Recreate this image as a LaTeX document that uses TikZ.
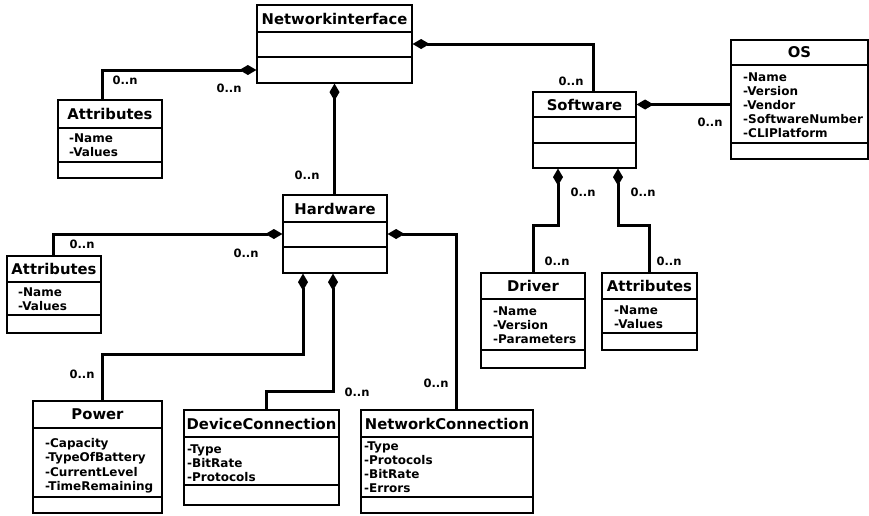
\documentclass[tikz,border=0pt]{standalone}
\usepackage{fontspec}
\setmainfont{DejaVu Sans}
\usetikzlibrary{arrows.meta}

\tikzset{
  box/.style={draw, line width=1.2pt, inner sep=0pt},
  ctitle/.style={font=\fontsize{14.8}{17}\selectfont\bfseries, inner sep=0pt},
  cattr/.style={font=\fontsize{12}{14}\selectfont\bfseries, align=left, inner sep=0pt, anchor=north west},
  wideattr/.style={cattr, font=\fontsize{12}{14.4}\selectfont\bfseries},
  mult/.style={font=\fontsize{11.5}{13}\selectfont\bfseries, inner sep=0pt},
  comp/.style={line width=3pt, {Diamond[length=17pt,width=10pt]}-},
}

% class box: name, x1, y1, x2, y2, first separator, second separator, title
\newcommand\classbox[8]{%
  \node[box, minimum width={(#4-#2)*1pt}, minimum height={(#5-#3)*1pt}] (#1) at ({(#2+#4)/2},{(#3+#5)/2}) {};
  \draw[line width=1.2pt] (#2,#6) -- (#4,#6) (#2,#7) -- (#4,#7);
  \node[ctitle] (#1-t) at ({(#2+#4)/2},{(#3+#6)/2}) {#8};
}

\begin{document}
\begin{tikzpicture}[x=1pt, y=-1pt]
  \useasboundingbox (0,0) rectangle (869,515);

  % classes
  \classbox{ni}{257}{5}{412}{83}{32}{57}{Networkinterface}
  \classbox{a1}{58}{100}{162}{178}{128}{162}{Attributes}
  \classbox{sw}{533}{92}{636}{168}{117}{143}{Software}
  \classbox{os}{731}{40}{868}{159}{65}{143}{OS}
  \classbox{hw}{283}{195}{387}{273}{222}{247}{Hardware}
  \classbox{a2}{7}{256}{101}{333}{282}{315}{Attributes}
  \classbox{dr}{481}{273}{585}{368}{299}{350}{Driver}
  \classbox{a3}{602}{273}{697}{350}{299}{333}{Attributes}
  \classbox{pw}{33}{401}{162}{513}{428}{497}{Power}
  \classbox{dc}{184}{410}{339}{505}{437}{485}{DeviceConnection}
  \classbox{nc}{361}{410}{533}{513}{437}{497}{NetworkConnection}

  % attributes
  \node[cattr] (a1-a) at (69,134) {-Name\\-Values};
  \node[cattr] (os-a) at (743,73) {-Name\\-Version\\-Vendor\\-SoftwareNumber\\-CLIPlatform};
  \node[cattr] (a2-a) at (18,288) {-Name\\-Values};
  \node[cattr] (dr-a) at (493,307) {-Name\\-Version\\-Parameters};
  \node[cattr] (a3-a) at (614,306) {-Name\\-Values};
  \node[wideattr] (pw-a) at (45,438) {-Capacity\\-TypeOfBattery\\-CurrentLevel\\-TimeRemaining};
  \node[cattr] (dc-a) at (187,445) {-Type\\-BitRate\\-Protocols};
  \node[cattr] (nc-a) at (364,442) {-Type\\-Protocols\\-BitRate\\-Errors};

  % compositions
  \coordinate (swr) at ([yshift=25.5pt]sw.east);
  \draw[comp] ([yshift=-26pt]ni.west) -| ([xshift=-8pt]a1.north);
  \draw[comp] (ni.east) -| ([xshift=8.5pt]sw.north);
  \draw[comp] (ni.south) -- (ni.south |- hw.north);
  \draw[comp] (hw.west) -| ([xshift=-1pt]a2.north);
  \draw[comp] (hw.east) -| ([xshift=9pt]nc.north);
  \draw[comp] ([xshift=-32pt]hw.south) -- ++(0,81) -| ([xshift=4.5pt]pw.north);
  \draw[comp] ([xshift=-2pt]hw.south) -- ++(0,118) -| ([xshift=4.5pt]dc.north);
  \draw[comp] (swr) -- (swr -| os.west);
  \draw[comp] ([xshift=-26.5pt]sw.south) -- ++(0,57) -| (dr.north);
  \draw[comp] ([xshift=33.5pt]sw.south) -- ++(0,57) -| (a3.north);

  % multiplicities
  \node[mult] (m1) at (125,80) {0..n};
  \node[mult] (m2) at (229,88) {0..n};
  \node[mult] (m3) at (571,81) {0..n};
  \node[mult] (m4) at (710,122) {0..n};
  \node[mult] (m5) at (307,175) {0..n};
  \node[mult] (m6) at (82,244) {0..n};
  \node[mult] (m7) at (246,253) {0..n};
  \node[mult] (m8) at (583,192) {0..n};
  \node[mult] (m9) at (643,192) {0..n};
  \node[mult] (m10) at (557,261) {0..n};
  \node[mult] (m11) at (669,261) {0..n};
  \node[mult] (m12) at (82,374) {0..n};
  \node[mult] (m13) at (357,392) {0..n};
  \node[mult] (m14) at (436,383) {0..n};
\end{tikzpicture}
\end{document}
